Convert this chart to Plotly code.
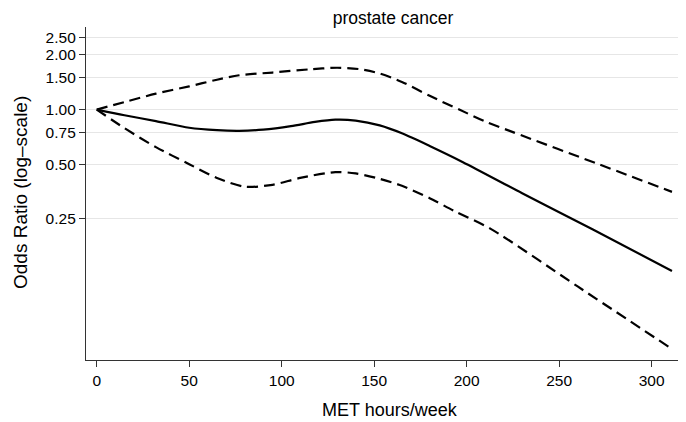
import plotly.graph_objects as go

# MET hours/week sample points and odds ratios
met_or = [0, 15, 32, 50, 65, 77, 90, 105, 118, 129, 140, 153, 165, 180, 198, 230, 268, 311]
odds_ratio = [1.0, 0.93, 0.864, 0.794, 0.77, 0.764, 0.775, 0.81, 0.855, 0.88, 0.87, 0.818, 0.74, 0.63, 0.513, 0.346, 0.219, 0.129]

met_up = [0, 15, 32, 50, 65, 77, 95, 115, 130, 142, 153, 165, 180, 196, 210, 225, 270, 311]
upper_ci = [1.0, 1.1, 1.224, 1.343, 1.46, 1.545, 1.6, 1.665, 1.70, 1.67, 1.58, 1.42, 1.19, 1.0, 0.86, 0.751, 0.506, 0.352]

met_lo = [0, 15, 32, 50, 65, 80, 95, 110, 129, 140, 153, 165, 180, 193, 213, 260, 310]
lower_ci = [1.0, 0.79, 0.621, 0.50, 0.42, 0.376, 0.385, 0.42, 0.452, 0.445, 0.415, 0.38, 0.325, 0.277, 0.22, 0.106, 0.0487]

y_ticks = [0.25, 0.5, 0.75, 1.0, 1.5, 2.0, 2.5]
y_ticktext = ["0.25", "0.50", "0.75", "1.00", "1.50", "2.00", "2.50"]
x_ticks = [0, 50, 100, 150, 200, 250, 300]

FONT = "Liberation Sans, Arial, Helvetica, sans-serif"
DASH = "11px,6px"

fig = go.Figure()
fig.add_trace(go.Scatter(x=met_up, y=upper_ci, mode="lines", line=dict(color="black", width=2.2, dash=DASH, shape="spline", smoothing=0.8), showlegend=False, hoverinfo="skip"))
fig.add_trace(go.Scatter(x=met_lo, y=lower_ci, mode="lines", line=dict(color="black", width=2.2, dash=DASH, shape="spline", smoothing=0.8), showlegend=False, hoverinfo="skip"))
fig.add_trace(go.Scatter(x=met_or, y=odds_ratio, mode="lines", line=dict(color="black", width=2.2, shape="spline", smoothing=0.8), showlegend=False))

# reference line at OR = 1 (log axis -> log10(1) = 0)
fig.add_shape(type="line", xref="paper", x0=0, x1=1, yref="y", y0=0, y1=0, line=dict(color="#444444", width=1.3), layer="below")

# the page adds an 8px body margin, so figure coordinates are offset by 8px
ML, MR, MT, MB = 78, 10, 19, 70
plot_w = 686 - ML - MR
plot_h = 422 - MT - MB

fig.update_layout(
    width=686, height=422,
    margin=dict(l=ML, r=MR, t=MT, b=MB, autoexpand=False),
    paper_bgcolor="white", plot_bgcolor="white",
    font=dict(family=FONT, color="black", size=15.5),
    title=dict(text="prostate cancer", x=385/686, xanchor="center", y=1-10/422, yanchor="middle", font=dict(size=17.5, family=FONT, color="black")),
    xaxis=dict(range=[-5.8, 317.5], tickvals=x_ticks, ticks="outside", ticklen=6, tickcolor="#333333", showline=True, linecolor="#333333", linewidth=1.3, showgrid=False, zeroline=False,
               tickfont=dict(size=15.5), automargin=False),
    yaxis=dict(type="log", range=[-1.38, 0.455], tickvals=y_ticks, ticktext=y_ticktext, ticks="outside", ticklen=6, tickcolor="#333333", showline=True, linecolor="#333333", linewidth=1.3,
               showgrid=True, gridcolor="#e6e6e6", gridwidth=1, zeroline=False, tickfont=dict(size=15.5), automargin=False),
    annotations=[
        dict(text="MET hours/week", xref="paper", yref="paper", x=(382-ML)/plot_w, y=-(402-352)/plot_h, xanchor="center", yanchor="middle", showarrow=False, font=dict(size=18)),
        dict(text="Odds Ratio (log–scale)", xref="paper", yref="paper", x=(12-ML)/plot_w, y=(352-185)/plot_h, xanchor="center", yanchor="middle", textangle=-90, showarrow=False, font=dict(size=19)),
    ],
)

fig.write_html("out.html")
